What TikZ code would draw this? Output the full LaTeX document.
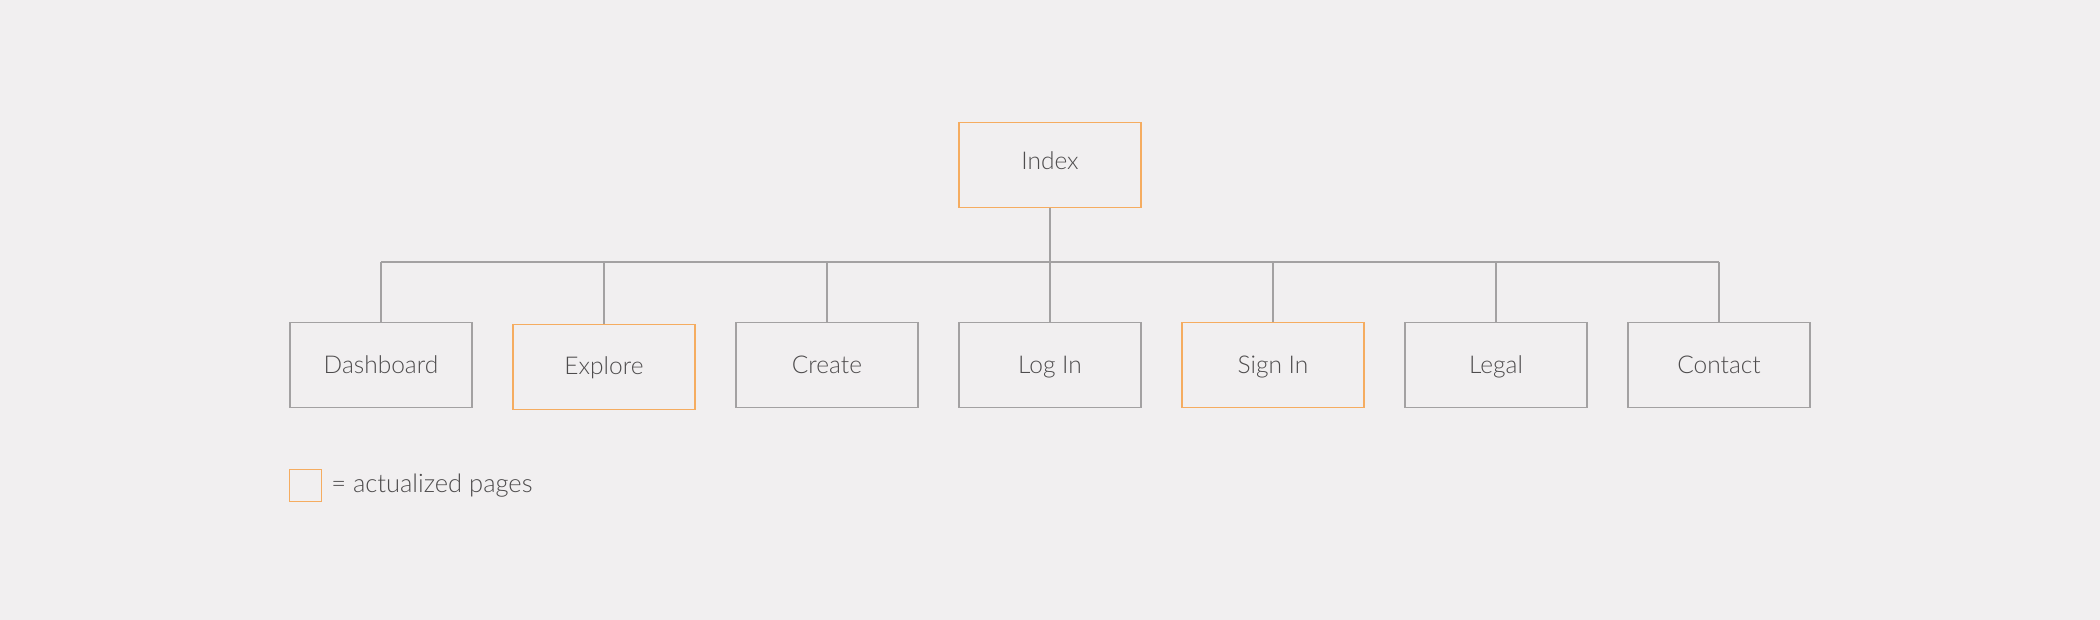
\documentclass[tikz,border=0pt]{standalone}
\usepackage{fontspec}
\setmainfont{Lato Light}
\usetikzlibrary{positioning}

\definecolor{bgpaper}{HTML}{F1EFF0}
\definecolor{linegray}{HTML}{A3A1A2}
\definecolor{pageorange}{HTML}{F5AC60}
\definecolor{textgray}{HTML}{4E4C4D}

\tikzset{
  page/.style={draw=linegray, line width=1.2pt, minimum width=182pt, minimum height=85pt,
    font=\fontsize{24.5}{27}\selectfont, text=textgray, inner sep=0pt,
    text height=17pt, text depth=0pt},
  actual/.style={page, draw=pageorange},
  link/.style={draw=linegray, line width=1.2pt}
}

\begin{document}
\begin{tikzpicture}[x=1pt,y=-1pt,node distance=39.8pt]

  \fill[bgpaper] (0,0) rectangle (2100,620);
  \useasboundingbox (0,0) rectangle (2100,620);

  \node[actual, text depth=8pt] (idx) at (1050,165) {Index};

  \node[page] (dash) at (381,365) {Dashboard};
  \node[actual, text height=15pt] (expl) [right=of dash, yshift=-2pt] {Explore};
  \node[page] (crea) [right=of expl, yshift=2pt] {Create};
  \node[page] (login) [right=of crea] {Log In};
  \node[actual] (sign) [right=of login] {Sign In};
  \node[page] (legal) [right=of sign] {Legal};
  \node[page] (cont) [right=of legal] {Contact};

  \coordinate (bus) at (1050,262);

  \path[link] (idx.south) -- (bus)
              (dash.north |- bus) -- (cont.north |- bus);
  \foreach \c in {dash,expl,crea,login,sign,legal,cont}
    \path[link] (\c.north) -- (\c.north |- bus);

  % legend
  \node[actual, minimum width=32pt, minimum height=32pt, text height=0pt] (key) at (305.5,485.5) {};
  \node[anchor=west, font=\fontsize{25.5}{28}\selectfont, text=textgray, inner sep=0pt]
    (keytext) [right=9pt of key] {= actualized pages};

\end{tikzpicture}
\end{document}
